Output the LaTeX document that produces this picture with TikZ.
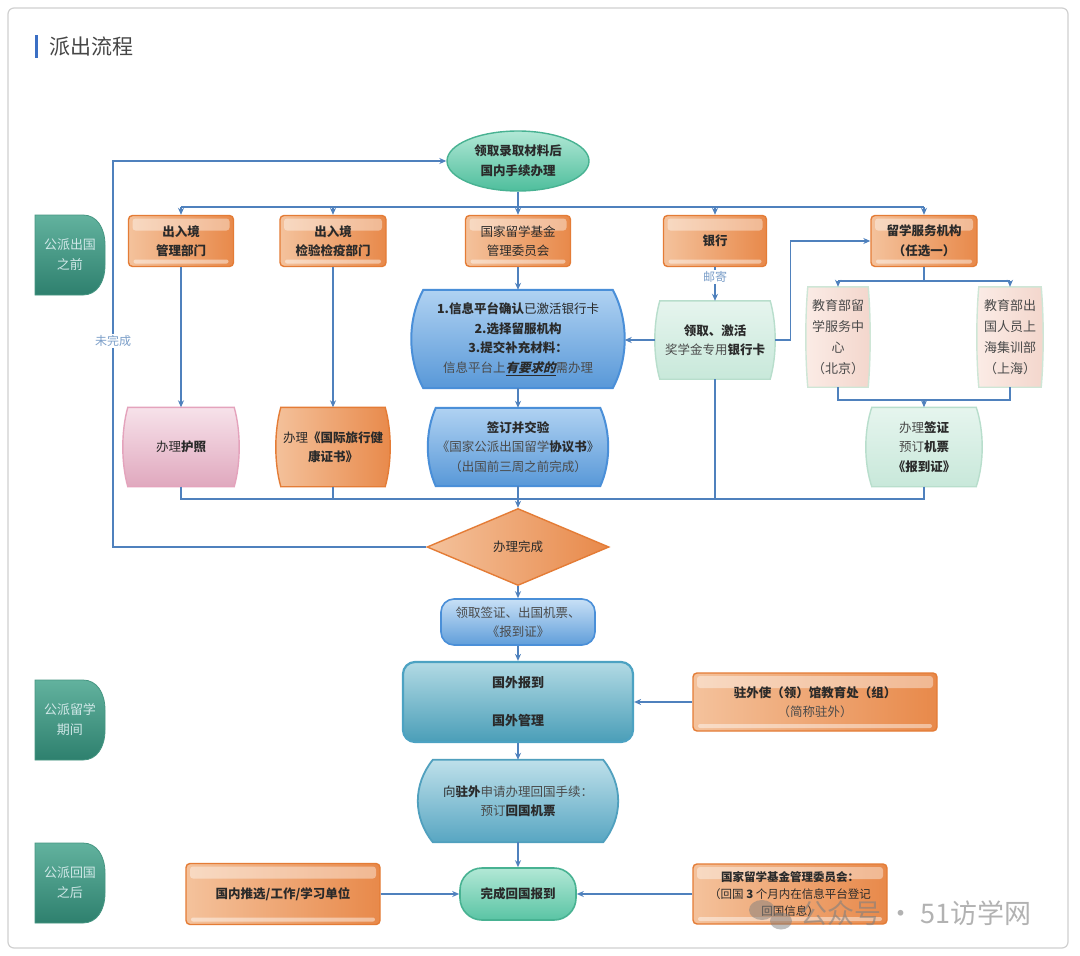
\documentclass[tikz,border=0pt]{standalone}
\usepackage{fontspec}
\setmainfont{Noto Sans CJK SC}
\newfontfamily\slbf{Noto Sans CJK SC}[FakeSlant=0.25]
\usetikzlibrary{arrows.meta,calc,backgrounds,shapes.geometric}
\definecolor{cline}{HTML}{4F81BD}
\definecolor{orL}{HTML}{F4C29C}
\definecolor{orD}{HTML}{E8894A}
\definecolor{orB}{HTML}{E47C36}
\definecolor{txt}{HTML}{2A2A2A}
\definecolor{soft}{HTML}{4A4A4A}
\definecolor{lblc}{HTML}{7C9FC9}
\definecolor{framec}{HTML}{D0D0D0}
\definecolor{titleblue}{HTML}{3B6FC4}
\definecolor{titlegray}{HTML}{464646}
\newcommand\fsz{\fontsize{12.5}{19.5}\selectfont}
\newcommand\mybarrel[3]{%
  \path[#3] ($(#1.north west)+(#2,0)$) -- ($(#1.north east)+(-#2,0)$)
    .. controls ($(#1.north east)!0.3!(#1.south east)+({(#2)/3},0)$) and ($(#1.north east)!0.7!(#1.south east)+({(#2)/3},0)$) .. ($(#1.south east)+(-#2,0)$)
    -- ($(#1.south west)+(#2,0)$)
    .. controls ($(#1.north west)!0.7!(#1.south west)+({-(#2)/3},0)$) and ($(#1.north west)!0.3!(#1.south west)+({-(#2)/3},0)$) .. cycle;}
\begin{document}
\begin{tikzpicture}[x=1pt,y=-1pt,
  ln/.style={draw=cline, line width=1.2pt},
  arr/.style={draw=cline, line width=1.2pt, -{Stealth[length=7pt,width=6pt]}},
  lbl/.style={fill=white, inner sep=1.5pt, text=lblc, font=\fontsize{12}{14}\selectfont},
  gloss/.style={path picture={
     \fill[white,opacity=0.4,rounded corners=3pt] ($(path picture bounding box.north west)+(4,3)$) rectangle ($(path picture bounding box.north east)+(-4,15)$);
     \fill[white,opacity=0.45,rounded corners=2pt] ($(path picture bounding box.south west)+(5,-7)$) rectangle ($(path picture bounding box.south east)+(-5,-3)$);}},
  obox/.style={rectangle, rounded corners=4pt, draw=orB, line width=1.4pt, left color=orL, right color=orD, gloss,
     align=center, text=txt, font=\fsz, inner sep=2pt},
  bnode/.style={rectangle, inner sep=0pt, align=center, text=txt, font=\fsz},
  stage/.style={text=white!82!teal, font=\fontsize{13}{20}\selectfont, align=center},
]
\useasboundingbox (0,0) rectangle (1080,956);
\begin{scope}[on background layer]
  \fill[white] (0,0) rectangle (1080,956);
  \draw[framec, line width=1.2pt, rounded corners=6pt] (8,8) rectangle (1068,948);
\end{scope}

% title
\fill[titleblue] (35,35) rectangle (38,58);
\node[anchor=west, text=titlegray, font=\fontsize{21}{24}\selectfont, inner sep=0pt] (title) at (49,46.5) {派出流程};

% stage labels
\foreach \yy/\tx/\nm in {215/{公派出国\\之前}/s1, 680/{公派留学\\期间}/s2, 843/{公派回国\\之后}/s3}{
  \path[top color={rgb,255:red,98;green,178;blue,158}, bottom color={rgb,255:red,46;green,128;blue,110}, draw={rgb,255:red,70;green,150;blue,130}, line width=0.8pt]
    (35,\yy) -- (83,\yy) .. controls (97,\yy) and (105,\yy+13) .. (105,\yy+30) -- (105,\yy+50) .. controls (105,\yy+67) and (97,\yy+80) .. (83,\yy+80) -- (35,\yy+80) -- cycle;
  \node[stage] (\nm) at (70,\yy+40) {\tx};
}

% top ellipse
\node[ellipse, draw={rgb,255:red,72;green,178;blue,146}, line width=1.4pt, top color={rgb,255:red,178;green,232;blue,214}, bottom color={rgb,255:red,78;green,190;blue,156},
  minimum width=142pt, minimum height=60pt, inner sep=0pt, align=center, text=txt, font=\fsz] (ell) at (518,161)
  {\textbf{领取录取材料后}\\\textbf{国内手续办理}};

% top orange boxes
\node[obox, minimum width=105pt, minimum height=51pt] (b1) at (181,241) {\textbf{出入境}\\\textbf{管理部门}};
\node[obox, minimum width=106pt, minimum height=51pt] (b2) at (333,241) {\textbf{出入境}\\\textbf{检验检疫部门}};
\node[obox, minimum width=105pt, minimum height=51pt] (b3) at (518,241) {国家留学基金\\管理委员会};
\node[obox, minimum width=103pt, minimum height=51pt] (b4) at (715,241) {\textbf{银行}};
\node[obox, minimum width=106pt, minimum height=51pt] (b5) at (924,241) {\textbf{留学服务机构}\\\textbf{（任选一）}};

% barrel nodes
\node[bnode, minimum width=116pt, minimum height=79pt] (pp) at (181,447) {办理\textbf{护照}};
\node[bnode, minimum width=114pt, minimum height=79pt] (hc) at (333,447) {办理\textbf{《国际旅行健}\\\textbf{康证书》}};
\node[bnode, minimum width=213pt, minimum height=98pt] (bl1) at (518,339)
  {\textbf{1.信息平台确认}已激活银行卡\\\textbf{2.选择留服机构}\\\textbf{3.提交补充材料：}\\{\color{soft}信息平台上}\underline{{\slbf\bfseries 有要求的}}{\color{soft}需办理}};
\node[bnode, minimum width=180pt, minimum height=78pt] (bl2) at (518,447)
  {\textbf{签订并交验}\\{\color{soft}《国家公派出国留学}\textbf{协议书}》\\{\color{soft}（出国前三周之前完成）}};
\node[bnode, minimum width=120pt, minimum height=78pt] (card) at (715,340) {\textbf{领取、激活}\\{\color{soft}奖学金专用}\textbf{银行卡}};
\node[bnode, minimum width=64pt, minimum height=100pt, text=soft, font=\fontsize{13}{21}\selectfont] (ed1) at (838,337) {教育部留\\学服务中\\心\\（北京）};
\node[bnode, minimum width=66pt, minimum height=100pt, text=soft, font=\fontsize{13}{21}\selectfont] (ed2) at (1010,337) {教育部出\\国人员上\\海集训部\\（上海）};
\node[bnode, minimum width=116pt, minimum height=79pt] (visa) at (924,447) {{\color{soft}办理}\textbf{签证}\\{\color{soft}预订}\textbf{机票}\\\textbf{《报到证》}};
\node[bnode, minimum width=200pt, minimum height=82pt] (ret) at (518,801) {向\textbf{驻外}{\color{soft}申请办理回国手续：}\\{\color{soft}预订}\textbf{回国机票}};

% diamond
\node[diamond, draw=orB, line width=1.4pt, left color=orL, right color=orD, minimum width=182pt, minimum height=77pt, inner sep=0pt, text=txt, font=\fsz] (dia) at (518,547) {办理完成};

% lower nodes
\node[rectangle, rounded corners=13pt, draw={rgb,255:red,74;green,143;blue,216}, line width=1.6pt, top color={rgb,255:red,200;green,224;blue,246}, bottom color={rgb,255:red,96;green,158;blue,218},
  minimum width=154pt, minimum height=46pt, inner sep=0pt, align=center, text=soft, font=\fsz] (rcv) at (518,622) {领取签证、出国机票、\\《报到证》};
\node[rectangle, rounded corners=12pt, draw={rgb,255:red,76;green,162;blue,194}, line width=2.2pt, top color={rgb,255:red,178;green,218;blue,228}, bottom color={rgb,255:red,74;green,158;blue,184},
  minimum width=230pt, minimum height=80pt, inner sep=0pt, align=center, text=txt, font=\fontsize{13}{19}\selectfont] (abroad) at (518,702) {\textbf{国外报到}\\[19pt]\textbf{国外管理}};
\node[obox, minimum width=244pt, minimum height=58pt] (emb) at (815,702) {\textbf{驻外使（领）馆教育处（组）}\\{\color{soft}（简称驻外）}};
\node[rectangle, rounded corners=22pt, draw={rgb,255:red,72;green,178;blue,146}, line width=1.6pt, top color={rgb,255:red,178;green,232;blue,214}, bottom color={rgb,255:red,90;green,196;blue,164},
  minimum width=116pt, minimum height=52pt, inner sep=0pt, text=txt, font=\fsz] (done) at (518,894) {\textbf{完成回国报到}};
\node[obox, minimum width=194pt, minimum height=61pt] (dom) at (283,894) {\textbf{国内推选/工作/学习单位}};
\node[obox, minimum width=194pt, minimum height=60pt, font=\fontsize{11.5}{17}\selectfont] (csc) at (790,894)
  {\textbf{国家留学基金管理委员会：}\\（回国 \textbf{3} 个月内在信息平台登记\\回国信息）};

% barrel backgrounds
\begin{scope}[on background layer]
  \mybarrel{pp}{5}{draw={rgb,255:red,228;green,163;blue,188}, line width=1.4pt, top color={rgb,255:red,247;green,226;blue,234}, bottom color={rgb,255:red,224;green,168;blue,190}}
  \mybarrel{hc}{5}{draw=orB, line width=1.4pt, left color=orL, right color=orD}
  \mybarrel{bl1}{12}{draw={rgb,255:red,74;green,143;blue,216}, line width=2pt, top color={rgb,255:red,176;green,210;blue,242}, bottom color={rgb,255:red,88;green,152;blue,216}}
  \mybarrel{bl2}{8}{draw={rgb,255:red,74;green,143;blue,216}, line width=2pt, top color={rgb,255:red,176;green,210;blue,242}, bottom color={rgb,255:red,88;green,152;blue,216}}
  \mybarrel{card}{5}{draw={rgb,255:red,184;green,222;blue,204}, line width=1.4pt, top color={rgb,255:red,230;green,245;blue,238}, bottom color={rgb,255:red,200;green,232;blue,218}}
  \mybarrel{ed1}{2}{draw={rgb,255:red,206;green,230;blue,214}, line width=1.4pt, left color={rgb,255:red,251;green,236;blue,230}, right color={rgb,255:red,243;green,214;blue,204}}
  \mybarrel{ed2}{2}{draw={rgb,255:red,206;green,230;blue,214}, line width=1.4pt, left color={rgb,255:red,251;green,236;blue,230}, right color={rgb,255:red,243;green,214;blue,204}}
  \mybarrel{visa}{6}{draw={rgb,255:red,184;green,222;blue,204}, line width=1.4pt, top color={rgb,255:red,230;green,245;blue,238}, bottom color={rgb,255:red,200;green,232;blue,218}}
  \mybarrel{ret}{15}{draw={rgb,255:red,80;green,160;blue,190}, line width=1.8pt, top color={rgb,255:red,190;green,224;blue,234}, bottom color={rgb,255:red,88;green,166;blue,194}}
\end{scope}

% connectors
\coordinate (jt) at (518,207);
\draw[ln] (ell.south) -- (jt);
\draw[ln] (b1.north |- jt) -- (b5.north |- jt);
\foreach \n in {b1,b2,b3,b4,b5} \draw[arr] (\n.north |- jt) -- (\n.north);
\draw[arr] (b1.south) -- (pp.north);
\draw[arr] (b2.south) -- (hc.north);
\draw[arr] (b3.south) -- (bl1.north);
\draw[arr] (bl1.south) -- (bl2.north);
\draw[arr] (b4.south) -- node[lbl, pos=0.3] (mail) {邮寄} (card.north);
\draw[arr] (card.west) -- (card.west -| bl1.east);
\draw[arr] (card.east) -- ++(15,0) |- (b5.west);
\coordinate (js) at (924,281);
\draw[ln] (b5.south) -- (js);
\draw[ln] (ed1.north |- js) -- (ed2.north |- js);
\draw[arr] (ed1.north |- js) -- (ed1.north);
\draw[arr] (ed2.north |- js) -- (ed2.north);
\coordinate (jv) at (924,400);
\draw[ln] (ed1.south) |- (jv) -| (ed2.south);
\draw[arr] (jv) -- (visa.north);
\coordinate (jb) at (518,499);
\draw[ln] (pp.south) |- (jb);
\draw[ln] (visa.south) |- (jb);
\draw[ln] (hc.south) -- (hc.south |- jb);
\draw[ln] (card.south) -- (card.south |- jb);
\draw[arr] (bl2.south) -- (dia.north);
\coordinate (lx) at (113,547);
\draw[arr] (dia.west) -- (lx) |- (ell.west);
\node[lbl] (nd) at (113,341) {未完成};
\draw[arr] (dia.south) -- (rcv.north);
\draw[arr] (rcv.south) -- (abroad.north);
\draw[arr] (emb.west) -- (abroad.east);
\draw[arr] (abroad.south) -- (ret.north);
\draw[arr] (ret.south) -- (done.north);
\draw[arr] (dom.east) -- (done.west);
\draw[arr] (csc.west) -- (done.east);

% watermark
\fill[gray, opacity=0.5] (762,910) ellipse (13pt and 10pt);
\fill[gray, opacity=0.5] (781,921) ellipse (11pt and 8.5pt);
\node[anchor=west, text=gray, opacity=0.6, font=\fontsize{27}{30}\selectfont, inner sep=0pt] (wm) at (800,913) {公众号 · 51访学网};
\end{tikzpicture}
\end{document}
